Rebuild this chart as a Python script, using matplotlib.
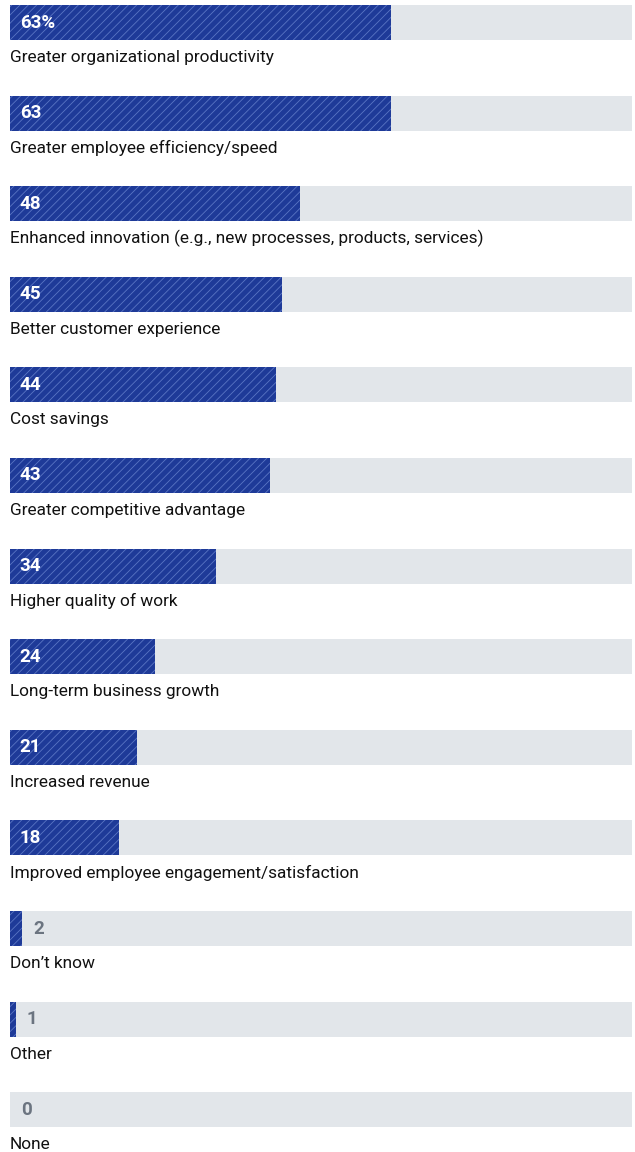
import matplotlib.pyplot as plt

categories = [
    "Greater organizational productivity",
    "Greater employee efficiency/speed",
    "Enhanced innovation (e.g., new processes, products, services)",
    "Better customer experience",
    "Cost savings",
    "Greater competitive advantage",
    "Higher quality of work",
    "Long-term business growth",
    "Increased revenue",
    "Improved employee engagement/satisfaction",
    "Don\u2019t know",
    "Other",
    "None",
]
values = [63, 63, 48, 45, 44, 43, 34, 24, 21, 18, 2, 1, 0]
value_labels = ["63%", "63", "48", "45", "44", "43", "34", "24", "21", "18", "2", "1", "0"]

plt.rcParams['font.family'] = ['Roboto', 'DejaVu Sans']
plt.rcParams['hatch.linewidth'] = 0.6

W, H = 635, 1152
fig = plt.figure(figsize=(W / 100, H / 100), dpi=100)

# x: 0..100 maps to 10px..615px, grey track runs to 632px
px_per_unit = 6.05
left = 10
track_max = (632 - left) / px_per_unit
ax = fig.add_axes([left / W, 0, (632 - left) / W, 1])
ax.set_xlim(0, track_max)

row = 90.6
top_off = 22.5
ax.set_ylim((H - top_off) / row, -top_off / row)
bar_h = 35 / row

ys = list(range(len(values)))
ax.barh(ys, [track_max] * len(values), height=bar_h, color='#e2e6ea', linewidth=0)
ax.barh(ys, values, height=bar_h, color='#1e3a98', edgecolor='#5a75c4',
        hatch='////', linewidth=0)

for y, v, lab, cat in zip(ys, values, value_labels, categories):
    if v >= 10:
        ax.text(1.6, y, lab, color='white', fontsize=13.5, fontweight='bold',
                va='center', ha='left')
    else:
        ax.text(v + 1.8, y, lab, color='#6b7480', fontsize=13.5, fontweight='bold',
                va='center', ha='left')
    ax.text(0, y + 35 / row, cat, color='#111111', fontsize=12.4,
            va='center', ha='left')

ax.axis('off')
fig.savefig('out.png', dpi=100)
